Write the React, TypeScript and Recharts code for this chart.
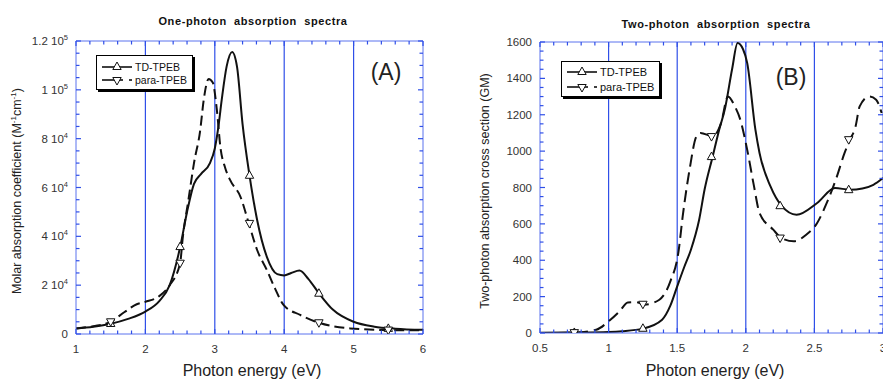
import React from "react";
import {
  ComposedChart,
  Line,
  Scatter,
  XAxis,
  YAxis,
  ReferenceLine,
} from "recharts";

const FONT = '"Liberation Sans", Arial, Helvetica, sans-serif';
const GRID = "#2f4fe8";
const FRAME = "#5a72ee";
const INK = "#111";
const TEXT = "#333";

// (A) one-photon absorption, energy in eV, molar absorption coefficient
const opaEnergyTd = [1, 1.25, 1.5, 1.75, 2, 2.2, 2.35, 2.5, 2.6, 2.7, 2.8, 2.93, 3.0, 3.05, 3.1, 3.17, 3.25, 3.32, 3.4, 3.5, 3.61, 3.75, 3.9, 4.0, 4.1, 4.22, 4.35, 4.5, 4.7, 5.0, 5.3, 5.6, 6.0];
const opaTd = [2300, 3000, 4200, 6200, 9200, 13500, 20000, 35500, 50000, 61500, 65500, 70000, 76000, 84500, 96000, 109500, 115500, 109500, 86000, 65000, 46700, 31600, 24500, 24000, 25000, 26000, 22500, 16700, 10000, 5000, 3000, 2200, 1700];
const opaEnergyPara = [1, 1.25, 1.5, 1.7, 1.875, 2.0, 2.2, 2.35, 2.5, 2.54, 2.62, 2.7, 2.79, 2.84, 2.91, 2.97, 3.03, 3.08, 3.15, 3.22, 3.37, 3.49, 3.61, 3.75, 3.87, 3.99, 4.23, 4.5, 4.95, 5.5, 6.0];
const opaPara = [2300, 3200, 5000, 9000, 12200, 13200, 15500, 20000, 29000, 39900, 54900, 70000, 83500, 95800, 104400, 103000, 91700, 76700, 68000, 63100, 56200, 45300, 34400, 26200, 18500, 11900, 7800, 4600, 2300, 1600, 1500];
const opaMarkEnergy = [1.5, 2.5, 3.5, 4.5, 5.5];
const opaTdMarks = [4300, 35800, 65000, 16700, 2300];
const opaParaMarks = [5000, 29000, 45300, 4600, 1600];
const opaXMajor = [1, 2, 3, 4, 5, 6];
const opaYMajor = [0, 20000, 40000, 60000, 80000, 100000, 120000];
const opaGrid = [2, 3, 4, 5];

// (B) two-photon absorption, energy in eV, cross section in GM
const tpaEnergyTd = [0.5, 0.75, 1.0, 1.1, 1.25, 1.39, 1.45, 1.5, 1.55, 1.6, 1.66, 1.7, 1.76, 1.8, 1.85, 1.9, 1.94, 1.98, 2.01, 2.07, 2.1, 2.18, 2.26, 2.37, 2.52, 2.65, 2.76, 2.85, 2.93, 3.0];
const tpaTd = [2, 3, 6, 10, 24, 73, 150, 256, 360, 458, 623, 790, 975, 1100, 1240, 1450, 1594, 1560, 1485, 1118, 990, 806, 700, 650, 715, 797, 788, 795, 815, 852];
const tpaEnergyPara = [0.5, 0.75, 0.91, 1.0, 1.08, 1.14, 1.2, 1.26, 1.37, 1.45, 1.51, 1.54, 1.59, 1.64, 1.67, 1.76, 1.82, 1.87, 1.92, 1.96, 2.01, 2.06, 2.1, 2.2, 2.26, 2.35, 2.44, 2.52, 2.59, 2.66, 2.72, 2.76, 2.8, 2.83, 2.9, 2.95, 2.99];
const tpaPara = [0, 2, 18, 64, 119, 168, 170, 156, 183, 284, 450, 641, 898, 1081, 1100, 1081, 1155, 1301, 1246, 1173, 1008, 806, 660, 568, 522, 504, 540, 605, 715, 852, 990, 1063, 1136, 1246, 1301, 1283, 1210];
const tpaMarkEnergy = [0.75, 1.25, 1.75, 2.25, 2.75];
const tpaTdMarks = [3, 26, 970, 700, 788];
const tpaParaMarks = [2, 158, 1080, 522, 1063];
const tpaXMajor = [0.5, 1, 1.5, 2, 2.5, 3];
const tpaYMajor = [0, 200, 400, 600, 800, 1000, 1200, 1400, 1600];
const tpaGrid = [1, 1.5, 2, 2.5];

type Pt = { x: number; y: number };
const zip = (xs: number[], ys: number[]): Pt[] => xs.map((x, i) => ({ x, y: ys[i] }));

// minor tick positions between the labelled ones
const steps = (from: number, to: number, step: number) => {
  const out: number[] = [];
  const n = Math.round((to - from) / step);
  for (let i = 0; i <= n; i++) out.push(+(from + i * step).toFixed(4));
  return out;
};

const isIn = (list: number[], v: number) => list.some((m) => Math.abs(m - v) < 1e-6);

const sciLabel = (v: number) => {
  if (v === 0) return <tspan>0</tspan>;
  const exp = Math.floor(Math.log10(v) + 1e-9);
  const mant = +(v / Math.pow(10, exp)).toFixed(2);
  return (
    <>
      <tspan>{`${mant} 10`}</tspan>
      <tspan dy={-5} fontSize={7.5}>{exp}</tspan>
    </>
  );
};
const plainLabel = (v: number) => <tspan>{String(v)}</tspan>;

const triUp = (p: any) => (
  <path
    d={`M${p.cx},${p.cy - 4.5}L${p.cx + 4.2},${p.cy + 3}L${p.cx - 4.2},${p.cy + 3}Z`}
    fill="#fff"
    stroke={INK}
    strokeWidth={1}
  />
);
const triDown = (p: any) => (
  <path
    d={`M${p.cx},${p.cy + 4.5}L${p.cx + 4.2},${p.cy - 3}L${p.cx - 4.2},${p.cy - 3}Z`}
    fill="#fff"
    stroke={INK}
    strokeWidth={1}
  />
);

type PanelProps = {
  left: number;
  width: number;
  margin: { top: number; right: number; bottom: number; left: number };
  yAxisWidth: number;
  plotW: number;
  plotH: number;
  xDomain: [number, number];
  yDomain: [number, number];
  xTicks: number[];
  xMajor: number[];
  yTicks: number[];
  yMajor: number[];
  yLabel: (v: number) => React.ReactNode;
  grid: number[];
  td: Pt[];
  para: Pt[];
  tdMarks: Pt[];
  paraMarks: Pt[];
  dash: string;
};

function Panel(props: PanelProps) {
  const { plotW, plotH, xMajor, yMajor } = props;

  const xTick = (p: any) => {
    const v = p.payload.value;
    const major = isIn(xMajor, v);
    const len = major ? 5 : 3.5;
    return (
      <g>
        <line x1={p.x} y1={p.y} x2={p.x} y2={p.y - len} stroke={GRID} strokeWidth={1.2} />
        <line x1={p.x} y1={p.y - plotH} x2={p.x} y2={p.y - plotH + len} stroke={GRID} strokeWidth={1.2} />
        {major && (
          <text x={p.x} y={p.y + 19} textAnchor="middle" fontSize={11.5} fontFamily={FONT} fill={TEXT}>
            {String(v)}
          </text>
        )}
      </g>
    );
  };

  const yTick = (p: any) => {
    const v = p.payload.value;
    const major = isIn(yMajor, v);
    const len = major ? 5 : 3.5;
    return (
      <g>
        <line x1={p.x} y1={p.y} x2={p.x + len} y2={p.y} stroke={GRID} strokeWidth={1.2} />
        <line x1={p.x + plotW} y1={p.y} x2={p.x + plotW - len} y2={p.y} stroke={GRID} strokeWidth={1.2} />
        {major && (
          <text x={p.x - 8} y={p.y + 4} textAnchor="end" fontSize={11.5} fontFamily={FONT} fill={TEXT}>
            {props.yLabel(v)}
          </text>
        )}
      </g>
    );
  };

  return (
    <div style={{ position: "absolute", left: props.left, top: 0 }}>
      <ComposedChart width={props.width} height={381} margin={props.margin}>
        <XAxis
          type="number"
          dataKey="x"
          domain={props.xDomain}
          allowDataOverflow
          ticks={props.xTicks}
          interval={0}
          tickLine={false}
          tickSize={0}
          tickMargin={0}
          axisLine={{ stroke: FRAME }}
          tick={xTick}
          height={30}
        />
        <YAxis
          type="number"
          dataKey="y"
          domain={props.yDomain}
          allowDataOverflow
          ticks={props.yTicks}
          interval={0}
          tickLine={false}
          tickSize={0}
          tickMargin={0}
          axisLine={{ stroke: FRAME }}
          tick={yTick}
          width={props.yAxisWidth}
        />
        {props.grid.map((g) => (
          <ReferenceLine key={g} x={g} stroke={GRID} strokeWidth={1.2} />
        ))}
        <ReferenceLine x={props.xDomain[1]} stroke={FRAME} />
        <ReferenceLine y={props.yDomain[1]} stroke={FRAME} />
        <Line
          data={props.td}
          dataKey="y"
          type="monotone"
          stroke={INK}
          strokeWidth={2}
          dot={false}
          activeDot={false}
          isAnimationActive={false}
        />
        <Line
          data={props.para}
          dataKey="y"
          type="monotone"
          stroke={INK}
          strokeWidth={2}
          strokeDasharray={props.dash}
          dot={false}
          activeDot={false}
          isAnimationActive={false}
        />
        <Scatter data={props.tdMarks} dataKey="y" shape={triUp} isAnimationActive={false} />
        <Scatter data={props.paraMarks} dataKey="y" shape={triDown} isAnimationActive={false} />
      </ComposedChart>
    </div>
  );
}

function Label({ x, y, size, bold, rotate, children, extra }: any) {
  return (
    <div
      style={{
        position: "absolute",
        left: x,
        top: y,
        transform: `translate(-50%, -50%)${rotate ? " rotate(-90deg)" : ""}`,
        fontFamily: FONT,
        fontSize: size,
        fontWeight: bold ? "bold" : "normal",
        color: bold ? "#111" : "#222",
        whiteSpace: "pre",
        lineHeight: 1,
        ...extra,
      }}
    >
      {children}
    </div>
  );
}

function LegendBox({ left, top, width, height, row1, row2, fs }: any) {
  return (
    <div
      style={{
        position: "absolute",
        left,
        top,
        width,
        height,
        background: "#fff",
        border: "1.5px solid #000",
        boxShadow: "2px 2px 0 #000",
        boxSizing: "border-box",
      }}
    >
      <svg width={width} height={height} style={{ position: "absolute", left: -1.5, top: -1.5 }}>
        <line x1={6} y1={row1} x2={36} y2={row1} stroke={INK} strokeWidth={1.6} />
        {triUp({ cx: 21, cy: row1 - 0.5 })}
        <text x={39} y={row1 + 4} fontSize={fs} fontFamily={FONT} fill="#111">TD-TPEB</text>
        <line x1={6} y1={row2} x2={27} y2={row2} stroke={INK} strokeWidth={1.6} />
        <line x1={33} y1={row2} x2={36} y2={row2} stroke={INK} strokeWidth={1.6} />
        {triDown({ cx: 21, cy: row2 + 0.5 })}
        <text x={39} y={row2 + 4} fontSize={fs} fontFamily={FONT} fill="#111">para-TPEB</text>
      </svg>
    </div>
  );
}

export default function App() {
  return (
    <div
      style={{
        position: "absolute",
        left: 0,
        top: 0,
        width: 883,
        height: 381,
        overflow: "hidden",
        background: "#fff",
      }}
    >
      <Panel
        left={0}
        width={440}
        margin={{ top: 41, right: 17, bottom: 17, left: 0 }}
        yAxisWidth={76}
        plotW={347}
        plotH={293}
        xDomain={[1, 6]}
        yDomain={[0, 120000]}
        xTicks={steps(1, 6, 0.2)}
        xMajor={opaXMajor}
        yTicks={steps(0, 120000, 5000)}
        yMajor={opaYMajor}
        yLabel={sciLabel}
        grid={opaGrid}
        td={zip(opaEnergyTd, opaTd)}
        para={zip(opaEnergyPara, opaPara)}
        tdMarks={zip(opaMarkEnergy, opaTdMarks)}
        paraMarks={zip(opaMarkEnergy, opaParaMarks)}
        dash="10 5"
      />
      <Panel
        left={440}
        width={445}
        margin={{ top: 42, right: 2, bottom: 18, left: 0 }}
        yAxisWidth={100}
        plotW={343}
        plotH={291}
        xDomain={[0.5, 3]}
        yDomain={[0, 1600]}
        xTicks={steps(0.5, 3, 0.1)}
        xMajor={tpaXMajor}
        yTicks={steps(0, 1600, 50)}
        yMajor={tpaYMajor}
        yLabel={plainLabel}
        grid={tpaGrid}
        td={zip(tpaEnergyTd, tpaTd)}
        para={zip(tpaEnergyPara, tpaPara)}
        tdMarks={zip(tpaMarkEnergy, tpaTdMarks)}
        paraMarks={zip(tpaMarkEnergy, tpaParaMarks)}
        dash="12 6"
      />

      <Label x={253} y={21} size={11} bold extra={{ letterSpacing: 0.6 }}>
        One-photon  absorption  spectra
      </Label>
      <Label x={716} y={24} size={11} bold extra={{ letterSpacing: 0.6 }}>
        Two-photon  absorption  spectra
      </Label>
      <Label x={17} y={191} size={12.5} rotate>
        Molar absorption coefficient (M<sup style={{ fontSize: 8 }}>-1</sup>cm<sup style={{ fontSize: 8 }}>-1</sup>)
      </Label>
      <Label x={485} y={191} size={12.5} rotate>
        Two-photon absorption cross section (GM)
      </Label>
      <Label x={252} y={371} size={16}>
        Photon energy (eV)
      </Label>
      <Label x={715} y={371} size={16}>
        Photon energy (eV)
      </Label>
      <Label x={386} y={72} size={23}>
        (A)
      </Label>
      <Label x={791} y={77} size={23}>
        (B)
      </Label>

      <LegendBox left={96} top={55} width={97} height={35} row1={12} row2={25} fs={10.5} />
      <LegendBox left={561} top={61} width={99} height={36} row1={11} row2={26} fs={11} />
    </div>
  );
}
